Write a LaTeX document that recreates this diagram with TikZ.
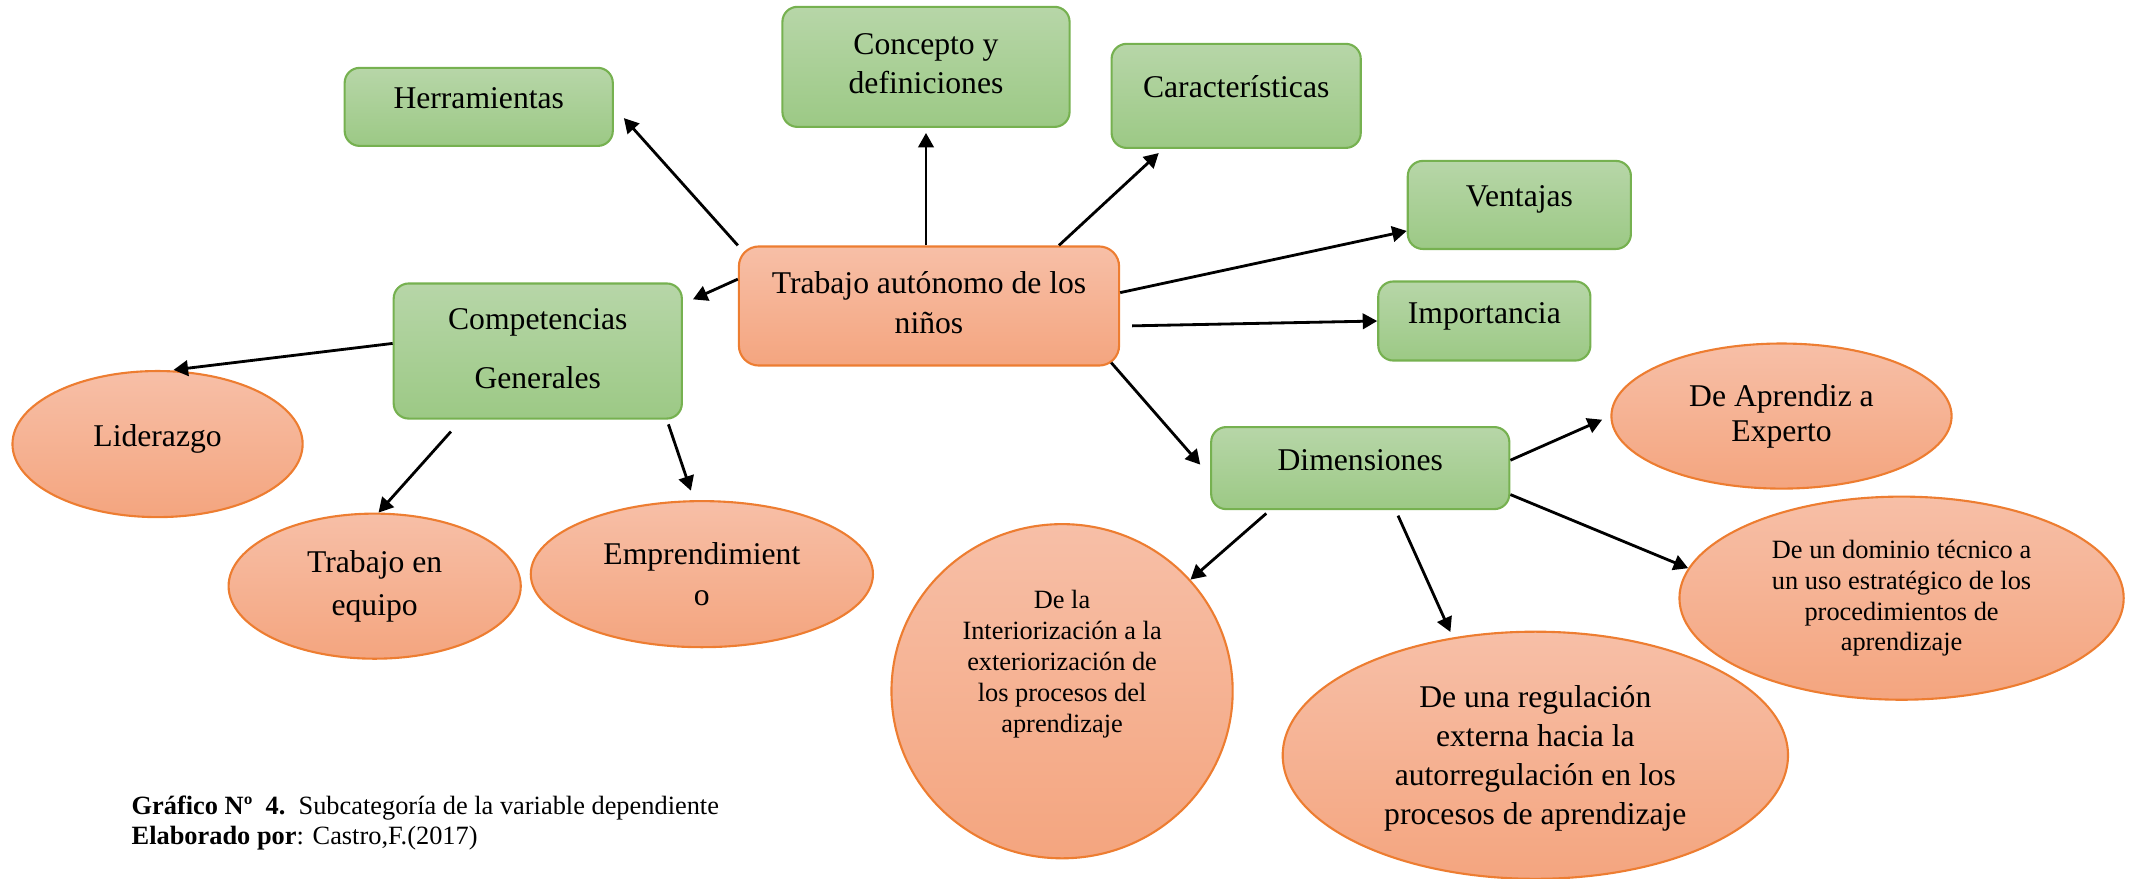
\documentclass[tikz,border=0pt]{standalone}
\usepackage{fontspec}
\setmainfont{Liberation Serif}
\usetikzlibrary{shapes.geometric, arrows.meta, positioning}

\definecolor{greentop}{RGB}{183,214,168}
\definecolor{greenbot}{RGB}{156,201,133}
\definecolor{greenline}{RGB}{118,177,80}
\definecolor{orangetop}{RGB}{247,191,167}
\definecolor{orangebot}{RGB}{244,165,127}
\definecolor{orangeline}{RGB}{237,125,49}

\newcommand{\bigtext}{\fontsize{9}{11.1}\selectfont}
\newcommand{\smalltext}{\fontsize{7.5}{8.8}\selectfont}

\begin{document}
\begin{tikzpicture}[
    x=0.01cm, y=-0.01cm,
    node distance=2cm,
    greenbox/.style={rectangle, rounded corners=0.15cm, align=center, line width=0.6pt, draw=greenline, top color=greentop, bottom color=greenbot, font=\bigtext, inner sep=0pt},
    orangebox/.style={rectangle, rounded corners=0.2cm, align=center, line width=0.6pt, draw=orangeline, top color=orangetop, bottom color=orangebot, font=\bigtext, inner sep=0pt},
    orangeoval/.style={ellipse, align=center, line width=0.6pt, draw=orangeline, top color=orangetop, bottom color=orangebot, font=\bigtext, inner sep=0pt},
    oneline/.style={text height=0.25cm, text depth=0.21cm},
    arrow/.style={thick,->,>={Triangle[length=1.45mm,width=1.55mm]}}
]
\useasboundingbox (0,0) rectangle (2133,879);

\node (trabajo) [orangebox, minimum width=3.8cm, minimum height=1.19cm, text depth=0.07cm] at (929,306) {Trabajo autónomo de los\\niños};
\node (herr) [greenbox, oneline, minimum width=2.68cm, minimum height=0.78cm, left of=trabajo, xshift=-2.5cm, yshift=1.99cm] {Herramientas};
\node (concepto) [greenbox, minimum width=2.87cm, minimum height=1.2cm, above of=trabajo, xshift=-0.03cm, yshift=0.39cm, text depth=0.07cm] {Concepto y\\definiciones};
\node (caract) [greenbox, oneline, minimum width=2.49cm, minimum height=1.04cm, above of=trabajo, xshift=3.07cm, yshift=0.1cm] {Características};
\node (ventajas) [greenbox, oneline, minimum width=2.23cm, minimum height=0.88cm, right of=trabajo, xshift=3.9cm, yshift=1.01cm] {Ventajas};
\node (importancia) [greenbox, oneline, minimum width=2.12cm, minimum height=0.79cm, right of=trabajo, xshift=3.55cm, yshift=-0.15cm] {Importancia};
\node (comp) [greenbox, minimum width=2.88cm, minimum height=1.35cm, left of=trabajo, xshift=-1.91cm, yshift=-0.45cm, font=\fontsize{9}{17}\selectfont, text depth=0.05cm] {Competencias\\Generales};
\node (dim) [greenbox, oneline, minimum width=2.98cm, minimum height=0.82cm, below of=trabajo, xshift=4.31cm, yshift=0.38cm] {Dimensiones};

% competencias generales
\node (lider) [orangeoval, oneline, minimum width=2.9cm, minimum height=1.46cm, left of=comp, xshift=-1.8cm, yshift=-0.93cm] {Liderazgo};
\node (equipo) [orangeoval, minimum width=2.92cm, minimum height=1.45cm, below of=comp, xshift=-1.63cm, yshift=-0.35cm, font=\fontsize{9}{12.3}\selectfont] {Trabajo en\\equipo};
\node (empr) [orangeoval, minimum width=3.42cm, minimum height=1.46cm, below of=comp, xshift=1.64cm, yshift=-0.23cm, font=\fontsize{9}{11.7}\selectfont] {Emprendimient\\o};

% dimensiones
\node (aprendiz) [orangeoval, minimum width=3.4cm, minimum height=1.45cm, right of=dim, xshift=2.21cm, yshift=0.52cm, font=\fontsize{9}{10}\selectfont] {De Aprendiz a\\Experto};
\node (dominio) [orangeoval, minimum width=4.44cm, minimum height=2.03cm, right of=dim, xshift=3.41cm, yshift=-1.3cm, font=\smalltext] {De un dominio técnico a\\un uso estratégico de los\\procedimientos de\\aprendizaje};
\node (interior) [orangeoval, minimum width=3.41cm, minimum height=3.34cm, below of=dim, xshift=-2.98cm, yshift=-0.23cm, font=\smalltext, text depth=0.6cm] {De la\\Interiorización a la\\exteriorización de\\los procesos del\\aprendizaje};
\node (regul) [orangeoval, minimum width=5.05cm, minimum height=2.47cm, below of=dim, xshift=1.75cm, yshift=-0.87cm, text depth=0pt] {De una regulación\\externa hacia la\\autorregulación en los\\procesos de aprendizaje};

\node (grafico) [anchor=base west, align=left, inner sep=0pt, font=\fontsize{7.5}{8.5}\selectfont] at (131,844) {\textbf{Gráfico Nº~~4.}~~Subcategoría de la variable dependiente\\\textbf{Elaborado por}: Castro,F.(2017)};

\draw [arrow, shorten >=0.15cm] (trabajo.north west) -- (herr.east);
\draw [arrow, shorten >=0.05cm] (concepto.south |- trabajo.north) -- (concepto.south);
\draw [arrow, shorten >=0.06cm] (trabajo.25) -- (caract.216);
\draw [arrow] (trabajo.4) -- (ventajas.193);
\draw [arrow, shorten <=0.12cm] (trabajo.-6) -- (importancia.west);
\draw [arrow, shorten >=0.11cm] (trabajo.172) -- (comp.18);
\draw [arrow, shorten >=0.15cm] ([xshift=-0.09cm,yshift=0.04cm]trabajo.south east) -- (dim.183);
\draw [arrow, shorten >=0.03cm] (comp.177) -- (lider.80);
\draw [arrow, shorten <=0.16cm] (comp.222) -- (equipo.87);
\draw [arrow, shorten <=0.05cm, shorten >=0.1cm] (comp.-28) -- (empr.96);
\draw [arrow, shorten >=0.09cm] (dim.3) -- (aprendiz.west);
\draw [arrow] (dim.-10) -- (dominio.172);
\draw [arrow, shorten <=0.05cm] (dim.205) -- (interior.41);
\draw [arrow, shorten <=0.06cm, shorten >=0.06cm] (dim.-50) -- (regul.125);

\end{tikzpicture}
\end{document}
